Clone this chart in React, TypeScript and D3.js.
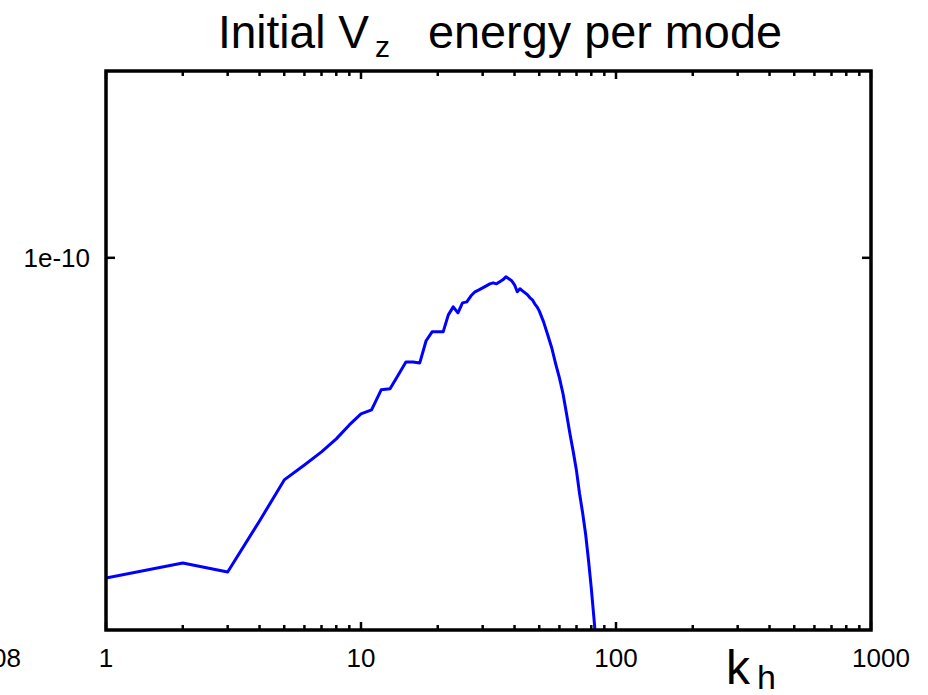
import React, { useEffect, useRef } from "react";
import * as d3 from "d3";

// Wavenumbers k_h (mode index) and initial V_z energy per mode
const kValues: number[] = [
  1, 2, 3, 4, 5, 6, 7, 8, 9, 10, 11, 12, 13, 14, 15, 16, 17, 18, 19, 20,
  21, 22, 23, 24, 25, 26, 27, 28, 29, 30, 31, 32, 33, 34, 35, 36, 37, 38, 39, 40,
  41, 42, 43, 44, 45, 46, 47, 48, 49, 50, 52, 54, 56, 58, 60, 62, 64, 66, 68, 70,
  72, 74, 76, 78, 80, 82, 83,
];
const energyE10: number[] = [
  0.355, 0.3726, 0.3619, 0.4268, 0.4875, 0.5117, 0.5338, 0.5567, 0.5824, 0.6035,
  0.6114, 0.6525, 0.6547, 0.6847, 0.7141, 0.7141, 0.7118, 0.7646, 0.787, 0.787,
  0.787, 0.8315, 0.8533, 0.8369, 0.8644, 0.8672, 0.8844, 0.8959, 0.9016, 0.9075,
  0.9134, 0.9193, 0.9223, 0.9193, 0.9253, 0.9313, 0.9404, 0.9343, 0.9283, 0.9164,
  0.8959, 0.9046, 0.8987, 0.8929, 0.8871, 0.8786, 0.8729, 0.8616, 0.8533, 0.8423,
  0.8128, 0.7791, 0.747, 0.7096, 0.6781, 0.6437, 0.6035, 0.5657, 0.5338, 0.502,
  0.4658, 0.4381, 0.4093, 0.3762, 0.3436, 0.3108, 0.2951,
];
const xTickValues: number[] = [1, 10, 100, 1000];
const xTickLabels: string[] = ["1", "10", "100", "1000"];
const yTickValues: number[] = [1e-10];
const yTickLabels: string[] = ["1e-10"];
const xDomain: [number, number] = [1, 1000];
const yDomain: [number, number] = [3e-11, 1.83e-10];

const W = 928;
const H = 695;
const L = 106, R = 871, T = 71, B = 630;
const FONT = "'Liberation Sans', Arial, Helvetica, sans-serif";

export default function App() {
  const ref = useRef<SVGSVGElement | null>(null);

  useEffect(() => {
    const svg = d3.select(ref.current);
    svg.selectAll("*").remove();

    const x = d3.scaleLog().domain(xDomain).range([L, R]);
    const y = d3.scaleLog().domain(yDomain).range([B, T]);

    svg.append("rect").attr("width", W).attr("height", H).attr("fill", "#fff");

    svg.append("defs").append("clipPath").attr("id", "plotclip")
      .append("rect").attr("x", L).attr("y", T).attr("width", R - L).attr("height", B - T);

    const minor: number[] = [];
    for (let dec = 1; dec < 1000; dec *= 10) {
      for (let m = 2; m <= 9; m++) minor.push(dec * m);
    }
    const tg = svg.append("g").attr("stroke", "#000").attr("stroke-width", 2.5);
    minor.forEach((v) => {
      const px = x(v);
      tg.append("line").attr("x1", px).attr("x2", px).attr("y1", B).attr("y2", B - 5);
      tg.append("line").attr("x1", px).attr("x2", px).attr("y1", T).attr("y2", T + 5);
    });
    xTickValues.forEach((v) => {
      const px = x(v);
      tg.append("line").attr("x1", px).attr("x2", px).attr("y1", B).attr("y2", B - 8);
      tg.append("line").attr("x1", px).attr("x2", px).attr("y1", T).attr("y2", T + 8);
    });
    yTickValues.forEach((v) => {
      const py = y(v);
      tg.append("line").attr("x1", L).attr("x2", L + 9).attr("y1", py).attr("y2", py);
      tg.append("line").attr("x1", R).attr("x2", R - 9).attr("y1", py).attr("y2", py);
    });

    const data = kValues.map((k, i) => ({ k, v: energyE10[i] * 1e-10 }));
    const line = d3.line<{ k: number; v: number }>()
      .x((d) => x(d.k))
      .y((d) => y(d.v));
    svg.append("path")
      .attr("d", line(data) as string)
      .attr("fill", "none")
      .attr("stroke", "#0000ff")
      .attr("stroke-width", 3)
      .attr("stroke-linejoin", "round")
      .attr("clip-path", "url(#plotclip)");

    svg.append("rect")
      .attr("x", L).attr("y", T).attr("width", R - L).attr("height", B - T)
      .attr("fill", "none").attr("stroke", "#000").attr("stroke-width", 3.5);

    const lab = svg.append("g").attr("font-family", FONT).attr("font-size", 26).attr("fill", "#000");
    xTickValues.forEach((v, i) => {
      lab.append("text")
        .attr("x", x(v) + (v === 1000 ? 10 : 0))
        .attr("y", 667)
        .attr("text-anchor", "middle")
        .text(xTickLabels[i]);
    });
    yTickValues.forEach((v, i) => {
      lab.append("text")
        .attr("x", 90)
        .attr("y", y(v) + 9)
        .attr("text-anchor", "end")
        .text(yTickLabels[i]);
    });
    lab.append("text").attr("x", 21).attr("y", 667).attr("text-anchor", "end").text("08");

    const ax = svg.append("g").attr("font-family", FONT).attr("fill", "#000");
    ax.append("text").attr("x", 726).attr("y", 684).attr("font-size", 48).text("k");
    ax.append("text").attr("x", 757).attr("y", 689).attr("font-size", 34).text("h");

    const tt = svg.append("g").attr("font-family", FONT).attr("fill", "#000");
    tt.append("text").attr("x", 218).attr("y", 48).attr("font-size", 46).text("Initial V");
    tt.append("text").attr("x", 375).attr("y", 57).attr("font-size", 30).text("z");
    tt.append("text").attr("x", 428).attr("y", 48).attr("font-size", 46)
      .attr("textLength", 354).attr("lengthAdjust", "spacingAndGlyphs").text("energy per mode");
  }, []);

  return (
    <svg
      ref={ref}
      width={W}
      height={H}
      style={{ position: "absolute", left: 0, top: 0, display: "block" }}
    />
  );
}
